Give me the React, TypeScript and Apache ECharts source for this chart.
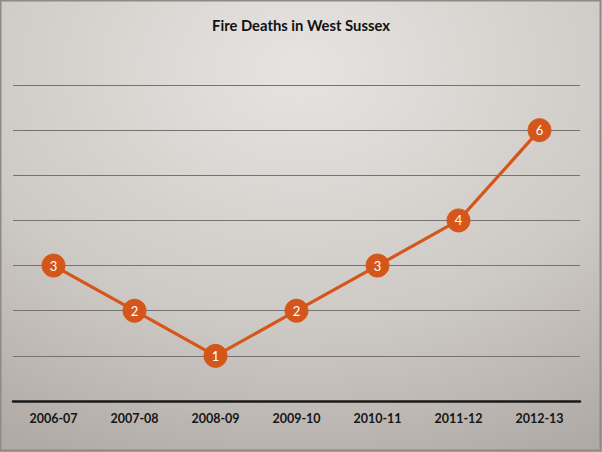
import React, { useEffect, useRef } from "react";
import * as echarts from "echarts";

const categories = ["2006-07", "2007-08", "2008-09", "2009-10", "2010-11", "2011-12", "2012-13"];
const deaths = [3, 2, 1, 2, 3, 4, 6];
const titleText = "Fire Deaths in West Sussex";

export default function App() {
  const ref = useRef<HTMLDivElement>(null);
  useEffect(() => {
    document.body.style.margin = "0";
    const chart = echarts.init(ref.current!, undefined, { renderer: "svg" });
    chart.setOption({
      animation: false,
      backgroundColor: {
        type: "radial",
        x: 0.5,
        y: 0.15,
        r: 0.95,
        colorStops: [
          { offset: 0, color: "#e6e4e1" },
          { offset: 0.6, color: "#cdc9c5" },
          { offset: 1, color: "#b0aaa6" },
        ],
      },
      title: {
        text: titleText,
        left: "center",
        top: 12,
        textStyle: {
          fontFamily: "Lato",
          fontWeight: 700,
          fontSize: 14.8,
          color: "#111111",
        },
      },
      graphic: [
        {
          type: "rect",
          shape: { x: 0.5, y: 0.5, width: 600, height: 450 },
          style: { fill: "none", stroke: "#8f8a86", lineWidth: 2 },
          silent: true,
        },
      ],
      grid: { left: 13, right: 22, top: 85, bottom: 51 },
      xAxis: {
        type: "category",
        data: categories,
        boundaryGap: true,
        axisLine: { lineStyle: { color: "#1a1a1a", width: 2.5 } },
        axisTick: { show: false },
        axisLabel: {
          margin: 11,
          fontFamily: "Lato",
          fontWeight: 700,
          fontSize: 12.5,
          color: "#151515",
        },
      },
      yAxis: {
        type: "value",
        min: 0,
        max: 7,
        interval: 1,
        axisLabel: { show: false },
        axisLine: { show: false },
        axisTick: { show: false },
        splitLine: { lineStyle: { color: "#77726f", width: 1 } },
      },
      series: [
        {
          type: "line",
          data: deaths,
          symbol: "circle",
          symbolSize: 23,
          lineStyle: { color: "#d4561b", width: 3.2 },
          itemStyle: { color: "#d4561b", borderColor: "#d4561b" },
          label: {
            show: true,
            position: "inside",
            color: "#ffffff",
            fontFamily: "Lato",
            fontSize: 13,
          },
        },
      ],
    });
    return () => chart.dispose();
  }, []);
  return <div ref={ref} style={{ width: 602, height: 452 }} />;
}
